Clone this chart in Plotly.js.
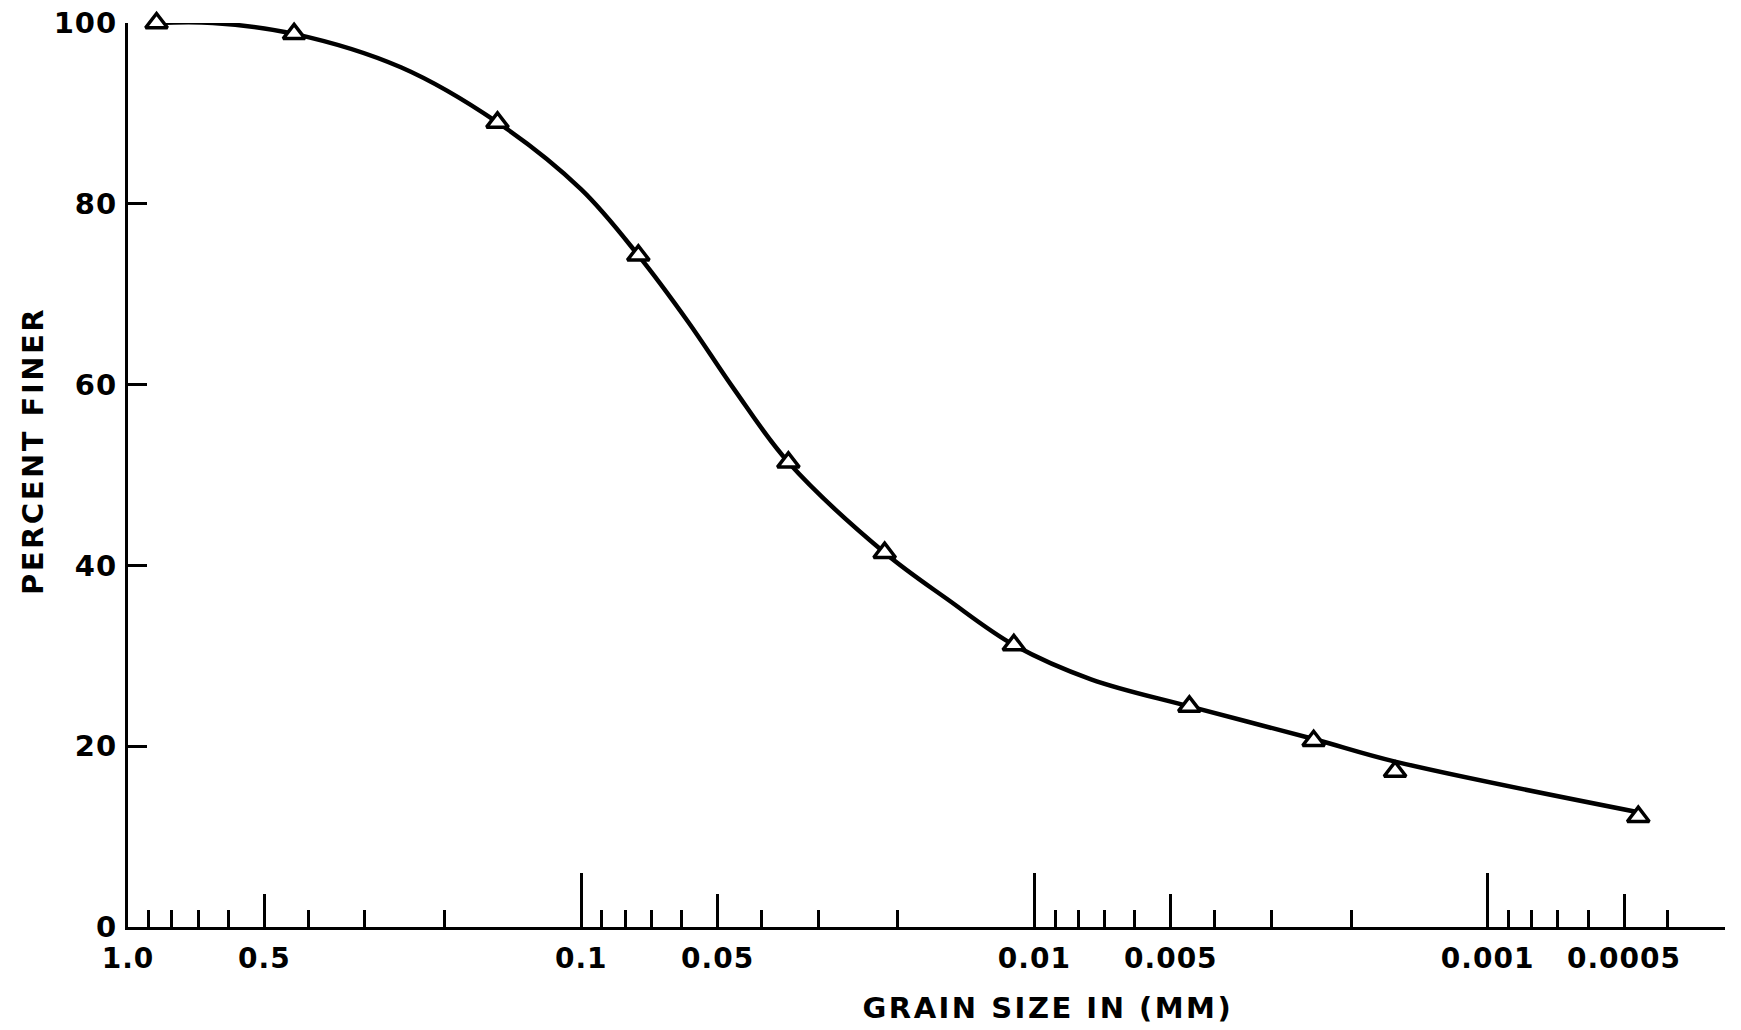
<!DOCTYPE html>
<html>
<head>
<meta charset="utf-8">
<script src="https://cdn.plot.ly/plotly-3.0.1.min.js"></script>
<style>html,body{margin:0;padding:0;background:#fff;}#chart{width:1741px;height:1030px;}</style>
</head>
<body>
<div id="chart"></div>
<script>
// Measured points (grain size in mm, percent finer)
const grainSize = [0.865, 0.43, 0.153, 0.0748, 0.0349, 0.0214, 0.0111, 0.00455, 0.00242, 0.0016, 0.000465];
const percentFiner = [100, 98.8, 89, 74.3, 51.4, 41.4, 31.2, 24.4, 20.6, 17.2, 12.2];

// Smooth fitted curve
const curveSize = [0.865, 0.65, 0.43, 0.25, 0.153, 0.1, 0.0748, 0.058, 0.046, 0.0349, 0.0214, 0.0155, 0.0111, 0.0075, 0.00455, 0.00242, 0.0016, 0.000465];
const curvePct  = [100, 100, 98.8, 95.1, 89, 81.6, 74.3, 66.9, 59.5, 51.4, 41.4, 36.2, 31.2, 27.4, 24.4, 20.8, 18.3, 12.7];

// Axis ticks
const xTickVals = [1, 0.5, 0.1, 0.05, 0.01, 0.005, 0.001, 0.0005];
const xTickText = ["1.0", "0.5", "0.1", "0.05", "0.01", "0.005", "0.001", "0.0005"];
const xDecades = [1, 0.1, 0.01, 0.001];
const yTickVals = [0, 20, 40, 60, 80, 100];

const xRange = [0, Math.log10(0.0003) - 0.001];
const FONT = "DejaVu Sans, Liberation Sans, sans-serif";

const traces = [
  {
    x: curveSize, y: curvePct, type: "scatter", mode: "lines",
    line: {color: "#000", width: 4.5, shape: "spline", smoothing: 1.0},
    cliponaxis: false,
    xaxis: "x", yaxis: "y", hoverinfo: "skip", showlegend: false
  },
  {
    x: grainSize, y: percentFiner, type: "scatter", mode: "markers",
    marker: {symbol: "triangle-up", size: 19, color: "#fff", line: {color: "#000", width: 3.5}},
    cliponaxis: false,
    xaxis: "x2", yaxis: "y", showlegend: false
  }
];

const layout = {
  width: 1741, height: 1030,
  margin: {l: 128, r: 16, t: 23, b: 103},
  paper_bgcolor: "#fff", plot_bgcolor: "#fff",
  font: {family: FONT, color: "#000", size: 26, weight: "bold"},
  showlegend: false,
  xaxis: {
    type: "log", range: xRange, showgrid: false, zeroline: false,
    showline: true, linecolor: "#000", linewidth: 3,
    ticks: "inside", ticklen: 33, tickwidth: 3, tickcolor: "#000",
    tickmode: "array", tickvals: xTickVals, ticktext: xTickText,
    ticklabelstandoff: 4,
    tickfont: {family: FONT, size: 28, color: "#000", weight: "bold"},
    minor: {dtick: "D1", ticks: "inside", ticklen: 17, tickwidth: 3, tickcolor: "#000", showgrid: false}
  },
  xaxis2: {
    type: "log", range: xRange, overlaying: "x", anchor: "y", side: "bottom",
    showgrid: false, zeroline: false, showline: false,
    ticks: "inside", ticklen: 54, tickwidth: 3, tickcolor: "#000",
    tickmode: "array", tickvals: xDecades, showticklabels: false
  },
  yaxis: {
    range: [0, 100], showgrid: false, zeroline: false,
    showline: true, linecolor: "#000", linewidth: 3,
    ticks: "inside", ticklen: 19, tickwidth: 3, tickcolor: "#000",
    tickmode: "array", tickvals: yTickVals,
    ticklabelstandoff: 2,
    tickfont: {family: FONT, size: 29, color: "#000", weight: "bold"}
  },
  annotations: [
    {text: "GRAIN SIZE IN (MM)", xref: "paper", yref: "paper", x: 0.576, y: -0.0895,
     xanchor: "center", yanchor: "middle", showarrow: false,
     font: {family: FONT, size: 29, color: "#000", weight: "bold"}},
    {text: "PERCENT FINER", xref: "paper", yref: "paper", x: -0.060, y: 0.527,
     xanchor: "center", yanchor: "middle", showarrow: false, textangle: -90,
     font: {family: FONT, size: 29, color: "#000", weight: "bold"}}
  ]
};

Plotly.newPlot("chart", traces, layout, {staticPlot: true, displayModeBar: false}).then(function(){
  document.querySelectorAll('.annotation-text').forEach(function(t){ t.style.letterSpacing = '2.5px'; });
  document.querySelectorAll('.xtick text, .ytick text').forEach(function(t){ t.style.letterSpacing = '1px'; });
});
</script>
</body>
</html>
